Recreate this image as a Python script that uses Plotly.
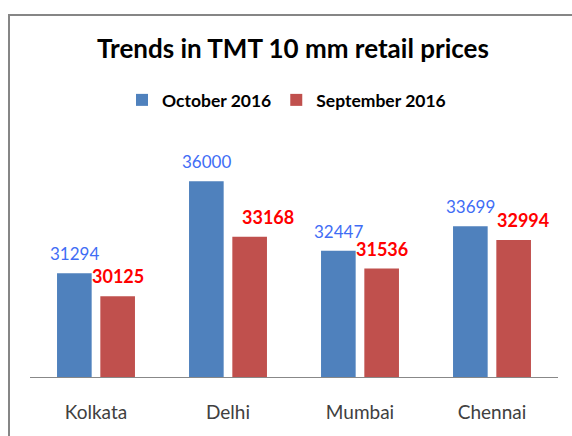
import plotly.graph_objects as go

cities = ["Kolkata", "Delhi", "Mumbai", "Chennai"]
october_2016 = [31294, 36000, 32447, 33699]
september_2016 = [30125, 33168, 31536, 32994]

# manual horizontal nudges of the September data labels (px), as in the original
sept_label_nudge = [0, 18, 0, 9]

W, H = 572, 436
L, R, T, B = 30, 14, 142, 59
blue = "#4F81BD"
red = "#C0504D"
font = "Lato"

fig = go.Figure()
fig.add_trace(go.Bar(name="October 2016", x=cities, y=october_2016,
                     marker=dict(color=blue, line=dict(width=0))))
fig.add_trace(go.Bar(name="September 2016", x=cities, y=september_2016,
                     marker=dict(color=red, line=dict(width=0))))

half_slot = 21.65
annotations = []
for c, v in zip(cities, october_2016):
    annotations.append(dict(x=c, y=v, xref="x", yref="y", text=str(v), showarrow=False,
                            xshift=-half_slot, yshift=7, yanchor="bottom",
                            font=dict(family=font, size=17, color="#3F6DF5")))
for c, v, n in zip(cities, september_2016, sept_label_nudge):
    annotations.append(dict(x=c, y=v, xref="x", yref="y", text=f"<b>{v}</b>", showarrow=False,
                            xshift=half_slot + n, yshift=7, yanchor="bottom",
                            font=dict(family=font, size=18, color="#FF0000")))

pw = W - L - R
ph = H - T - B
fig.update_layout(
    width=W, height=H,
    margin=dict(l=L, r=R, t=T, b=B, pad=0),
    paper_bgcolor="white", plot_bgcolor="white",
    barmode="group", bargap=0.344, bargroupgap=0.2,
    title=dict(text="<b>Trends in TMT 10 mm retail prices</b>", x=293 / W, xanchor="center",
               y=1 - 49 / H, yanchor="middle", yref="container",
               font=dict(family=font, size=26, color="black")),
    legend=dict(orientation="h", x=(122 - L) / pw, xanchor="left", y=(H - B - 100) / ph,
                yanchor="middle", font=dict(family=font, size=17.5, color="black", weight="bold"),
                bgcolor="rgba(0,0,0,0)", itemwidth=30, traceorder="normal"),
    xaxis=dict(showline=True, linecolor="#888888", linewidth=1.2, ticks="",
               tickfont=dict(family=font, size=19, color="#404040"), ticklabelstandoff=18,
               showgrid=False),
    yaxis=dict(range=[26000, 38000], visible=False, showgrid=False, zeroline=False),
    annotations=annotations,
    shapes=[dict(type="rect", xref="paper", yref="paper",
                 x0=(9 - L) / pw, x1=2, y0=-1, y1=(H - B - 15) / ph,
                 line=dict(color="#868686", width=2), fillcolor="rgba(0,0,0,0)", layer="below")],
)

fig.write_html("out.html")
